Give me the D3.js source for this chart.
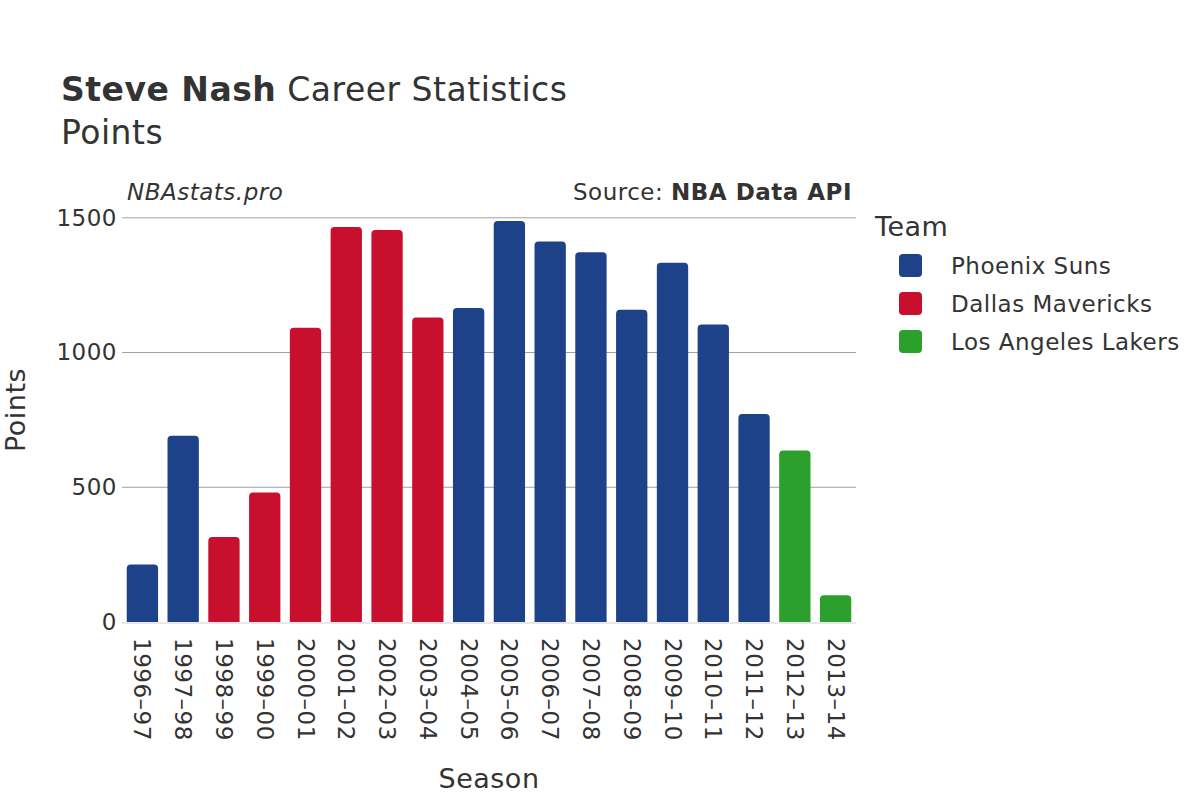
<!DOCTYPE html>
<html>
<head>
<meta charset="utf-8">
<script src="https://cdn.jsdelivr.net/npm/d3@7"></script>
<style>
  body { margin: 0; background: #fff; }
  text { font-family: "DejaVu Sans", sans-serif; fill: #333; letter-spacing: 0.5px; }
</style>
</head>
<body>
<svg id="chart" width="1200" height="800"></svg>
<script>
var seasons = ["1996–97", "1997–98", "1998–99", "1999–00", "2000–01", "2001–02", "2002–03", "2003–04", "2004–05",
               "2005–06", "2006–07", "2007–08", "2008–09", "2009–10", "2010–11", "2011–12", "2012–13", "2013–14"];
var points = [213, 691, 315, 481, 1092, 1466, 1455, 1130, 1165, 1488, 1412, 1372, 1159, 1333, 1104, 772, 636, 99];
var teams = ["Phoenix Suns", "Phoenix Suns", "Dallas Mavericks", "Dallas Mavericks", "Dallas Mavericks", "Dallas Mavericks",
             "Dallas Mavericks", "Dallas Mavericks", "Phoenix Suns", "Phoenix Suns", "Phoenix Suns", "Phoenix Suns",
             "Phoenix Suns", "Phoenix Suns", "Phoenix Suns", "Phoenix Suns", "Los Angeles Lakers", "Los Angeles Lakers"];
var teamNames = ["Phoenix Suns", "Dallas Mavericks", "Los Angeles Lakers"];
var teamColors = ["#1d428a", "#c8102e", "#2ca02c"];
var yTicks = [0, 500, 1000, 1500];

var svg = d3.select("#chart");
var plotLeft = 122, plotRight = 856, plotTop = 200, plotBottom = 622;

var x = d3.scaleBand().domain(seasons).range([plotLeft, plotRight]).paddingInner(0.232).paddingOuter(0.116);
var y = d3.scaleLinear().domain([0, 1566]).range([plotBottom, plotTop]);
var color = d3.scaleOrdinal().domain(teamNames).range(teamColors);

// grid
svg.append("g").selectAll("line").data(yTicks.slice(1)).enter().append("line")
    .attr("x1", plotLeft).attr("x2", plotRight)
    .attr("y1", function(d) { return y(d); }).attr("y2", function(d) { return y(d); })
    .attr("stroke", "#a0a0a0").attr("stroke-width", 1);

// y axis labels
var yAxis = d3.axisLeft(y).tickValues(yTicks).tickSize(0).tickPadding(5).tickFormat(d3.format("d"));
var ya = svg.append("g").attr("transform", "translate(" + plotLeft + ",0)").call(yAxis);
ya.select(".domain").remove();
ya.selectAll("text").style("font-size", "23px").style("font-family", "DejaVu Sans").attr("fill", "#333");

// bars, rounded top corners
var r = 4;
svg.append("g").selectAll("path").data(seasons).enter().append("path")
    .attr("d", function(d, i) {
        var x0 = x(d), w = x.bandwidth(), y0 = y(points[i]), h = plotBottom - y0;
        var rr = Math.min(r, h);
        return "M" + x0 + "," + plotBottom + "V" + (y0 + rr) + "Q" + x0 + "," + y0 + " " + (x0 + rr) + "," + y0 +
               "H" + (x0 + w - rr) + "Q" + (x0 + w) + "," + y0 + " " + (x0 + w) + "," + (y0 + rr) + "V" + plotBottom + "Z";
    })
    .attr("fill", function(d, i) { return color(teams[i]); });

// zero line
svg.append("line").attr("x1", plotLeft).attr("x2", plotRight).attr("y1", y(0) + 1).attr("y2", y(0) + 1)
    .attr("stroke", "#e8e8e8").attr("stroke-width", 2);

// x axis labels
var xAxis = d3.axisBottom(x).tickSize(0).tickPadding(0);
var xa = svg.append("g").attr("transform", "translate(0," + plotBottom + ")").call(xAxis);
xa.select(".domain").remove();
xa.selectAll("text")
    .style("font-size", "23px").style("font-family", "DejaVu Sans").attr("fill", "#333")
    .attr("text-anchor", "start").attr("dy", null).attr("y", 0)
    .attr("transform", "translate(-8,16) rotate(90)");

// titles
var t = svg.append("text").attr("x", 61).attr("y", 101).style("font-size", "33px");
t.append("tspan").style("font-weight", "bold").text("Steve Nash");
t.append("tspan").text(" Career Statistics");
svg.append("text").attr("x", 61).attr("y", 144).style("font-size", "33px").text("Points");

svg.append("text").attr("x", 127).attr("y", 200).style("font-size", "23px").style("font-style", "italic").text("NBAstats.pro");
var s = svg.append("text").attr("x", 852).attr("y", 200).attr("text-anchor", "end").style("font-size", "23px");
s.append("tspan").text("Source: ");
s.append("tspan").style("font-weight", "bold").text("NBA Data API");

svg.append("text").attr("transform", "translate(25,410) rotate(-90)").attr("text-anchor", "middle")
    .style("font-size", "27px").text("Points");
svg.append("text").attr("x", 489).attr("y", 788).attr("text-anchor", "middle")
    .style("font-size", "27px").text("Season");

// legend
svg.append("text").attr("x", 875).attr("y", 236).style("font-size", "27px").text("Team");
var lg = svg.append("g").selectAll("g").data(teamNames).enter().append("g")
    .attr("transform", function(d, i) { return "translate(899," + (254 + i * 38) + ")"; });
lg.append("rect").attr("width", 23).attr("height", 23).attr("rx", 4)
    .attr("fill", function(d) { return color(d); });
lg.append("text").attr("x", 52).attr("y", 20).style("font-size", "23px").text(function(d) { return d; });
</script>
</body>
</html>
